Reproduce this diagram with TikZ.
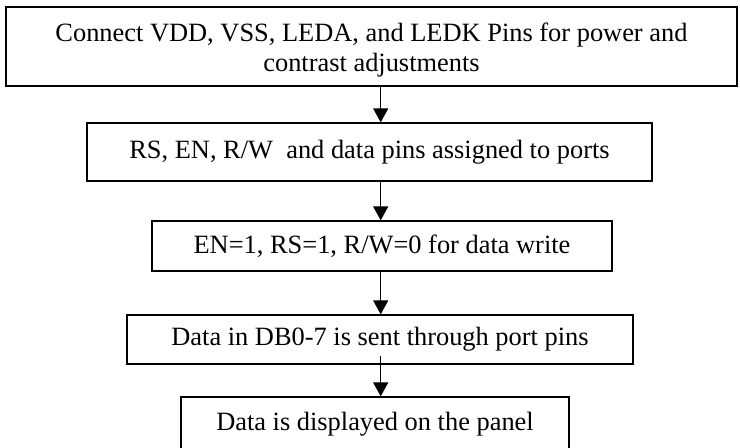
\documentclass[tikz,border=0pt]{standalone}
\usepackage{fontspec}
\setmainfont{Liberation Serif}
\usepackage{tikz}
\usetikzlibrary{shapes,arrows,arrows.meta,positioning,calc}

\begin{document}
\begin{tikzpicture}[node distance=47pt,
    block/.style={rectangle, draw, line width=0.65pt, align=center, inner sep=0pt, font=\fontsize{13.2}{15}\selectfont},
    flow/.style={-{Triangle[length=7pt,width=7.5pt]}, line width=0.65pt}]
    \useasboundingbox (0,0) rectangle (370pt,-223.5pt);
    \coordinate (ax) at (190.35pt,0);
    \node [block, minimum width=365.5pt, minimum height=39.5pt, text height=28pt] (connect) at (185.75pt,-23.25pt) {Connect VDD, VSS, LEDA, and LEDK Pins for power and\\contrast adjustments};
    \node [block, minimum width=282.5pt, minimum height=29pt, below of=connect, yshift=-5.75pt, xshift=-1pt] (assign) {RS, EN, R/W\ \ and data pins assigned to ports};
    \node [block, minimum width=230pt, minimum height=25pt, below of=assign, xshift=6.25pt] (write) {EN=1, RS=1, R/W=0 for data write};
    \node [block, minimum width=253pt, minimum height=24.5pt, below of=write, yshift=0.25pt, xshift=-1pt] (send) {Data in DB0-7 is sent through port pins};
    \node [block, minimum width=194pt, minimum height=27.5pt, below of=send, yshift=4.5pt, xshift=-2.5pt] (display) {Data is displayed on the panel};
    \draw[flow] (connect.south -| ax) -- (assign.north -| ax);
    \draw[flow] (assign.south -| ax) -- (write.north -| ax);
    \draw[flow] (write.south -| ax) -- (send.north -| ax);
    \draw[flow] ([yshift=4.5pt]send.south -| ax) -- (display.north -| ax);
\end{tikzpicture}
\end{document}
